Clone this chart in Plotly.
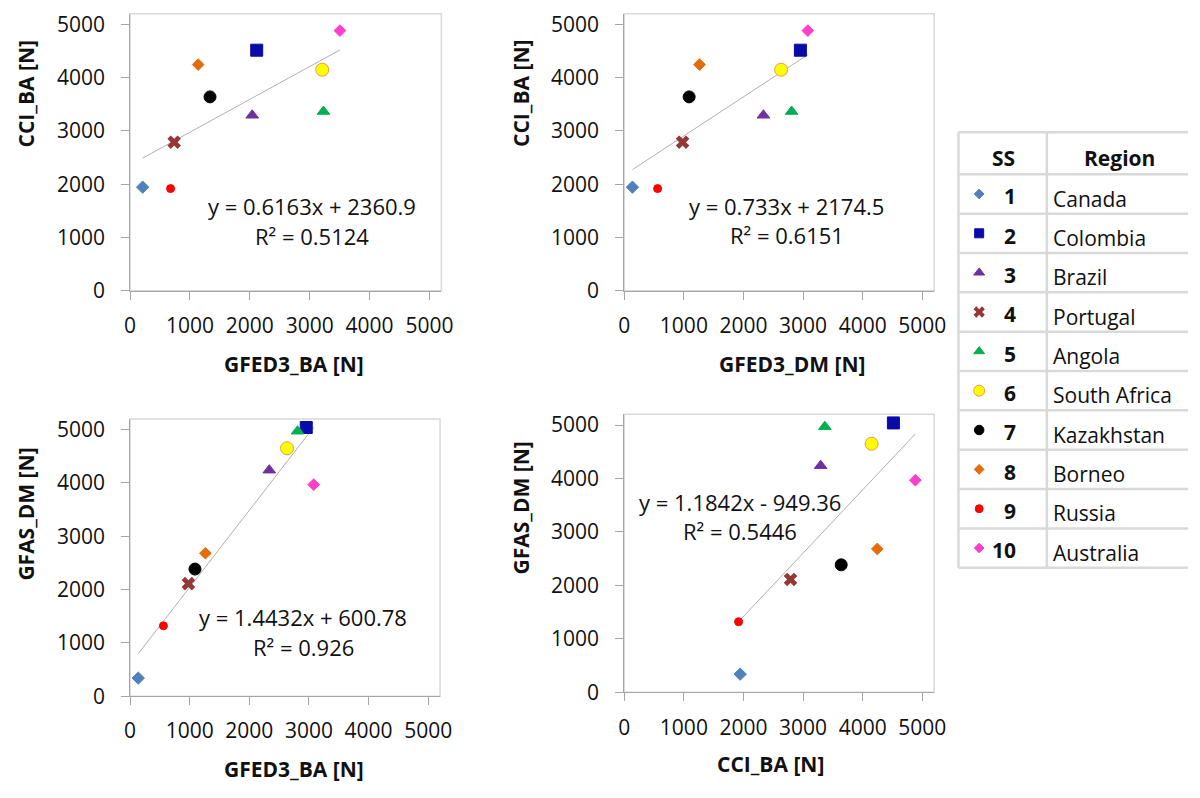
import numpy as np
import plotly.graph_objects as go

W, H = 1200, 798

# ---------------- data ----------------
ss = [1, 2, 3, 4, 5, 6, 7, 8, 9, 10]
regions = ["Canada", "Colombia", "Brazil", "Portugal", "Angola",
           "South Africa", "Kazakhstan", "Borneo", "Russia", "Australia"]
gfed3_ba = [210, 2115, 2040, 736, 3230, 3210, 1335, 1137, 676, 3505]
gfed3_dm = [137, 2955, 2335, 978, 2808, 2632, 1088, 1263, 559, 3080]
cci_ba = [1945, 4516, 3295, 2790, 3365, 4150, 3640, 4246, 1918, 4884]
gfas_dm = [340, 5040, 4240, 2112, 4970, 4650, 2385, 2682, 1320, 3968]

slopes = [0.6163, 0.733, 1.4432, 1.1842]
intercepts = [2360.9, 2174.5, 600.78, -949.36]
eq_texts = ["y = 0.6163x + 2360.9", "y = 0.733x + 2174.5",
            "y = 1.4432x + 600.78", "y = 1.1842x - 949.36"]
r2_texts = ["R² = 0.5124", "R² = 0.6151", "R² = 0.926", "R² = 0.5446"]
x_titles = ["GFED3_BA [N]", "GFED3_DM [N]", "GFED3_BA [N]", "CCI_BA [N]"]
y_titles = ["CCI_BA [N]", "CCI_BA [N]", "GFAS_DM [N]", "GFAS_DM [N]"]
tick_vals = [0, 1000, 2000, 3000, 4000, 5000]

# ---------------- styles ----------------
symbols = ["diamond", "square", "triangle-up", "x", "triangle-up",
           "circle", "circle", "diamond", "circle", "diamond"]
colors = ["#4F81BD", "#0A0AA8", "#7030A0", "#953735", "#00B050",
          "#FFFF00", "#000000", "#E46C0A", "#FF0000", "#FF3FCC"]
edge_colors = ["#4F81BD", "#0A0AA8", "#7030A0", "#953735", "#00B050",
               "#F79646", "#000000", "#E46C0A", "#FF0000", "#FF3FCC"]
sizes_plot = [9.5, 12, 11, 12, 11, 13, 12, 9, 8, 9]
sizes_table = [7.5, 9, 9.5, 10, 9.5, 11, 9.5, 7.5, 8, 7.5]

FONT = "Open Sans"
AX_COL = "#A6A6A6"
BORDER = "#D9D9D9"
TXT = "#111111"

panel_data = [(gfed3_ba, cci_ba), (gfed3_dm, cci_ba),
              (gfed3_dm, gfas_dm), (cci_ba, gfas_dm)]

# plot-area boxes in pixels (left, right, top, bottom)
boxes = [(126, 442, 10, 293), (627.7, 942.3, 10, 293),
         (126, 440.7, 424, 707.3), (627.7, 942.3, 419.3, 703.3)]
eq_pos = [(3033, 1586, 1035), (2726, 1599, 1048),
          (2903, 1480, 929), (1943, 3567, 3019)]
xt_pos = [(292.5, 368), (798.3, 368), (292, 781.7), (776.3, 776.7)]
yt_pos = [(20, 91.7), (523, 91.7), (20, 521), (523.3, 515)]

fig = go.Figure()
layout = dict(width=W, height=H, margin=dict(l=0, r=0, t=0, b=0),
              paper_bgcolor="white", plot_bgcolor="white",
              showlegend=False, font=dict(family=FONT, color=TXT))
shapes, annos = [], []

for i in range(4):
    n = i + 1
    xs, ys = panel_data[i]
    xa = "x" if n == 1 else f"x{n}"
    ya = "y" if n == 1 else f"y{n}"
    l, r, t, b = boxes[i]
    layout[f"xaxis{n}" if n > 1 else "xaxis"] = dict(
        domain=[l / W, r / W], range=[0, 5200], anchor=ya,
        tickvals=tick_vals, showgrid=False, zeroline=False,
        showline=True, linecolor=AX_COL, linewidth=1,
        ticks="outside", ticklen=8, tickcolor=AX_COL, tickwidth=1,
        tickfont=dict(family=FONT, size=21, color=TXT),
        ticklabelstandoff=8, fixedrange=True)
    layout[f"yaxis{n}" if n > 1 else "yaxis"] = dict(
        domain=[1 - b / H, 1 - t / H], range=[0, 5200], anchor=xa,
        tickvals=tick_vals, showgrid=False, zeroline=False,
        showline=True, linecolor=AX_COL, linewidth=1,
        ticks="outside", ticklen=8, tickcolor=AX_COL, tickwidth=1,
        tickfont=dict(family=FONT, size=21, color=TXT),
        ticklabelstandoff=12, fixedrange=True)
    shapes.append(dict(type="rect", xref=f"{xa} domain", yref=f"{ya} domain",
                       x0=0, x1=1, y0=0, y1=1, layer="below",
                       line=dict(color=BORDER, width=1.5)))
    # trendline
    xl = np.array([min(xs), max(xs)], dtype=float)
    yl = slopes[i] * xl + intercepts[i]
    fig.add_trace(go.Scatter(x=xl, y=yl, mode="lines", xaxis=xa, yaxis=ya,
                             line=dict(color="#B0B0B0", width=1),
                             hoverinfo="skip"))
    # points
    for k in range(len(ss)):
        fig.add_trace(go.Scatter(
            x=[xs[k]], y=[ys[k]], mode="markers", xaxis=xa, yaxis=ya,
            name=regions[k],
            marker=dict(symbol=symbols[k], size=sizes_plot[k], color=colors[k],
                        line=dict(color=edge_colors[k],
                                  width=1 if symbols[k] != "x" else 0))))
    ex, ey1, ey2 = eq_pos[i]
    annos.append(dict(x=ex, y=ey1, xref=xa, yref=ya, text=eq_texts[i],
                      xanchor="center", yanchor="middle", showarrow=False,
                      font=dict(size=22, family=FONT, color=TXT)))
    annos.append(dict(x=ex, y=ey2, xref=xa, yref=ya, text=r2_texts[i],
                      xanchor="center", yanchor="middle", showarrow=False,
                      font=dict(size=22, family=FONT, color=TXT)))
    px_, py_ = xt_pos[i]
    annos.append(dict(x=px_ / W, y=1 - py_ / H, xref="paper", yref="paper",
                      text=f"<b>{x_titles[i]}</b>", showarrow=False,
                      xanchor="center", yanchor="middle",
                      font=dict(size=21, family=FONT, color=TXT)))
    px_, py_ = yt_pos[i]
    annos.append(dict(x=px_ / W, y=1 - py_ / H, xref="paper", yref="paper",
                      text=f"<b>{y_titles[i]}</b>", showarrow=False, textangle=-90,
                      xanchor="center", yanchor="middle",
                      font=dict(size=21, family=FONT, color=TXT)))

# ---------------- legend table ----------------
ROW = 40.2
row1_center = 194.1
top_px, bot_px = 126, 582
y_top = 1 + (top_px - row1_center) / ROW
y_bot = 1 + (bot_px - row1_center) / ROW
layout["xaxis5"] = dict(domain=[960 / W, 1], range=[-7, 233], visible=False,
                        anchor="y5", fixedrange=True)
layout["yaxis5"] = dict(domain=[1 - bot_px / H, 1 - top_px / H],
                        range=[y_bot, y_top], visible=False, anchor="x5",
                        fixedrange=True)
tab_top = 1 + (131 - row1_center) / ROW
TL = dict(color="#D9D9D9", width=2.5)
shapes.append(dict(type="line", xref="x5", yref="y5", x0=0, x1=240,
                   y0=tab_top, y1=tab_top, line=TL))
for k in range(len(ss) + 1):
    shapes.append(dict(type="line", xref="x5", yref="y5", x0=0, x1=240,
                       y0=k + 0.5, y1=k + 0.5, line=TL))
for xv in (0, 89.7):
    shapes.append(dict(type="line", xref="x5", yref="y5", x0=xv, x1=xv,
                       y0=tab_top, y1=len(ss) + 0.5, line=TL))

hdr_y = (tab_top + 0.5) / 2 + 0.12
annos.append(dict(x=45.7, y=hdr_y, xref="x5", yref="y5", text="<b>SS</b>",
                  xanchor="center", yanchor="middle",
                  showarrow=False, font=dict(size=21, family=FONT, color=TXT)))
annos.append(dict(x=163, y=hdr_y, xref="x5", yref="y5", text="<b>Region</b>",
                  xanchor="center", yanchor="middle",
                  showarrow=False, font=dict(size=21, family=FONT, color=TXT)))
for k in range(len(ss)):
    annos.append(dict(x=60, y=ss[k] + 0.06, xref="x5", yref="y5",
                      text=f"<b>{ss[k]}</b>", xanchor="right", yanchor="middle",
                      showarrow=False,
                      font=dict(size=21, family=FONT, color=TXT)))
    annos.append(dict(x=94, y=ss[k] + 0.12, xref="x5", yref="y5",
                      text=regions[k], xanchor="left", yanchor="middle",
                      showarrow=False,
                      font=dict(size=21, family=FONT, color=TXT)))
    fig.add_trace(go.Scatter(
        x=[21], y=[ss[k]], mode="markers", xaxis="x5", yaxis="y5",
        marker=dict(symbol=symbols[k], size=sizes_table[k], color=colors[k],
                    line=dict(color=edge_colors[k],
                              width=1 if symbols[k] != "x" else 0)),
        hoverinfo="skip"))

layout["shapes"] = shapes
layout["annotations"] = annos
fig.update_layout(**layout)
fig.write_html("out.html")
